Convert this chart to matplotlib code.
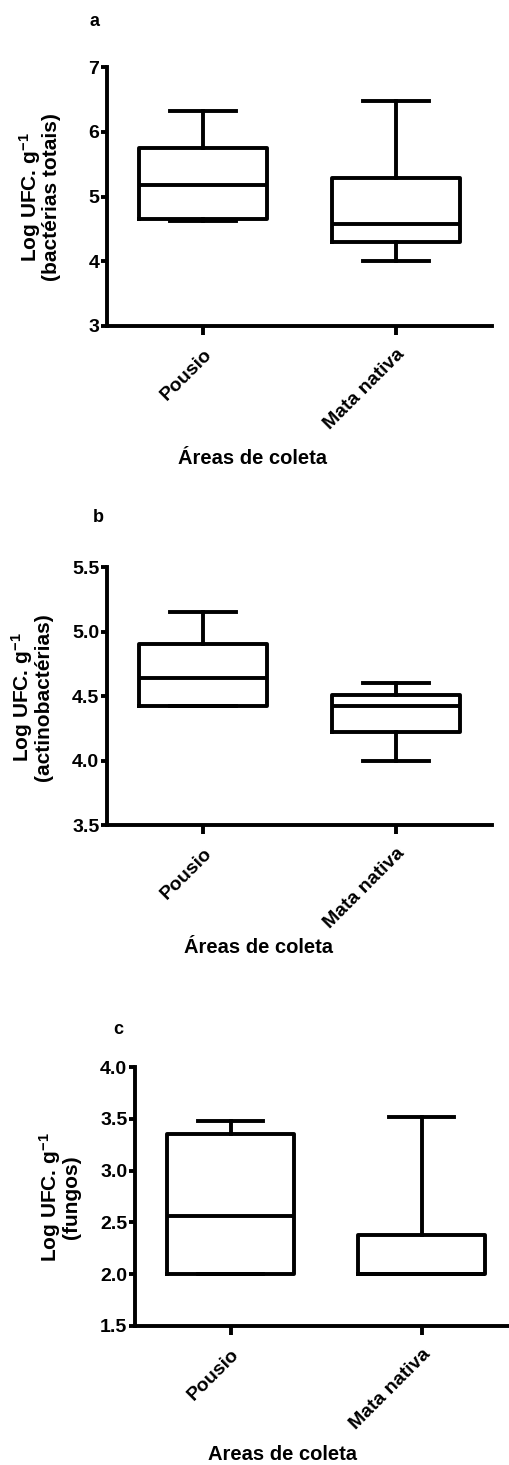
import matplotlib
matplotlib.use('Agg')
import matplotlib.pyplot as plt

plt.rcParams['font.family'] = ['Liberation Sans', 'DejaVu Sans']
plt.rcParams['font.weight'] = 'bold'
plt.rcParams['mathtext.fontset'] = 'custom'
plt.rcParams['mathtext.rm'] = 'Liberation Sans:bold'
plt.rcParams['mathtext.default'] = 'rm'

# categories
areas = ['Pousio', 'Mata nativa']

# panel a - bacterias totais (min, q1, median, q3, max)
a_min = [4.62, 4.00]
a_q1 = [4.65, 4.29]
a_med = [5.17, 4.57]
a_q3 = [5.75, 5.28]
a_max = [6.32, 6.48]

# panel b - actinobacterias
b_min = [4.42, 4.00]
b_q1 = [4.42, 4.22]
b_med = [4.64, 4.42]
b_q3 = [4.90, 4.51]
b_max = [5.15, 4.60]

# panel c - fungos
c_min = [2.00, 2.00]
c_q1 = [2.00, 2.00]
c_med = [2.56, 2.00]
c_q3 = [3.35, 2.38]
c_max = [3.48, 3.52]

W, H = 509, 1465
fig = plt.figure(figsize=(W / 100, H / 100), dpi=100)


def px_axes(left, right, top, bottom):
    return fig.add_axes([left / W, 1 - bottom / H, (right - left) / W, (bottom - top) / H])


def stats(mins, q1s, meds, q3s, maxs):
    out = []
    for lo, q1, md, q3, hi in zip(mins, q1s, meds, q3s, maxs):
        out.append({'whislo': lo, 'q1': q1, 'med': md, 'q3': q3, 'whishi': hi})
    return out


lw = 2.8
line = dict(color='black', linewidth=lw)


def panel(ax, st, ylim, yticks, fmt):
    ax.bxp(st, positions=[1, 2], widths=0.667, showfliers=False,
           boxprops=line, whiskerprops=line, capprops=line, medianprops=line,
           capwidths=0.344)
    ax.set_xlim(0.5, 2.5)
    ax.set_ylim(*ylim)
    ax.set_yticks(yticks)
    ax.set_yticklabels([fmt % v for v in yticks], fontsize=14, fontweight='bold')
    ax.set_xticks([1, 2])
    ax.set_xticklabels(areas, rotation=45, ha='right', rotation_mode='anchor',
                       fontsize=14, fontweight='bold')
    for s in ['top', 'right']:
        ax.spines[s].set_visible(False)
    for s in ['left', 'bottom']:
        ax.spines[s].set_linewidth(lw)
    ax.tick_params(axis='y', length=4.5, width=lw, pad=1)
    ax.tick_params(axis='x', length=6.5, width=lw, pad=8)


# a
ax1 = px_axes(107, 492, 67, 326)
panel(ax1, stats(a_min, a_q1, a_med, a_q3, a_max), (3, 7), [3, 4, 5, 6, 7], '%d')
# b
ax2 = px_axes(107, 492, 567, 825)
panel(ax2, stats(b_min, b_q1, b_med, b_q3, b_max), (3.5, 5.5), [3.5, 4.0, 4.5, 5.0, 5.5], '%.1f')
# c
ax3 = px_axes(135, 517, 1067, 1326)
panel(ax3, stats(c_min, c_q1, c_med, c_q3, c_max), (1.5, 4.0), [1.5, 2.0, 2.5, 3.0, 3.5, 4.0], '%.1f')


def ftext(x, y, s, **kw):
    fig.text(x / W, 1 - y / H, s, **kw)


# panel letters
ftext(95, 22, 'a', fontsize=13, fontweight='bold', ha='center', va='center')
ftext(98, 518, 'b', fontsize=13, fontweight='bold', ha='center', va='center')
ftext(118, 1030, 'c', fontsize=13, fontweight='bold', ha='center', va='center')

# y labels
ylab = r'Log UFC. g$^{-1}$'
ftext(39, 197, ylab + '\n(bactérias totais)', fontsize=15, fontweight='bold',
      rotation=90, ha='center', va='center', multialignment='center', linespacing=0.95)
ftext(31, 697, ylab + '\n(actinobactérias)', fontsize=15, fontweight='bold',
      rotation=90, ha='center', va='center', multialignment='center', linespacing=0.95)
ftext(59, 1197, ylab + '\n(fungos)', fontsize=15, fontweight='bold',
      rotation=90, ha='center', va='center', multialignment='center', linespacing=0.95)

# x labels
ftext(253, 458, 'Áreas de coleta', fontsize=14.5, fontweight='bold', ha='center', va='center')
ftext(258, 948, 'Áreas de coleta', fontsize=14.5, fontweight='bold', ha='center', va='center')
ftext(282, 1455, 'Areas de coleta', fontsize=14.5, fontweight='bold', ha='center', va='center')

fig.savefig('out.png', dpi=100, facecolor='white')
